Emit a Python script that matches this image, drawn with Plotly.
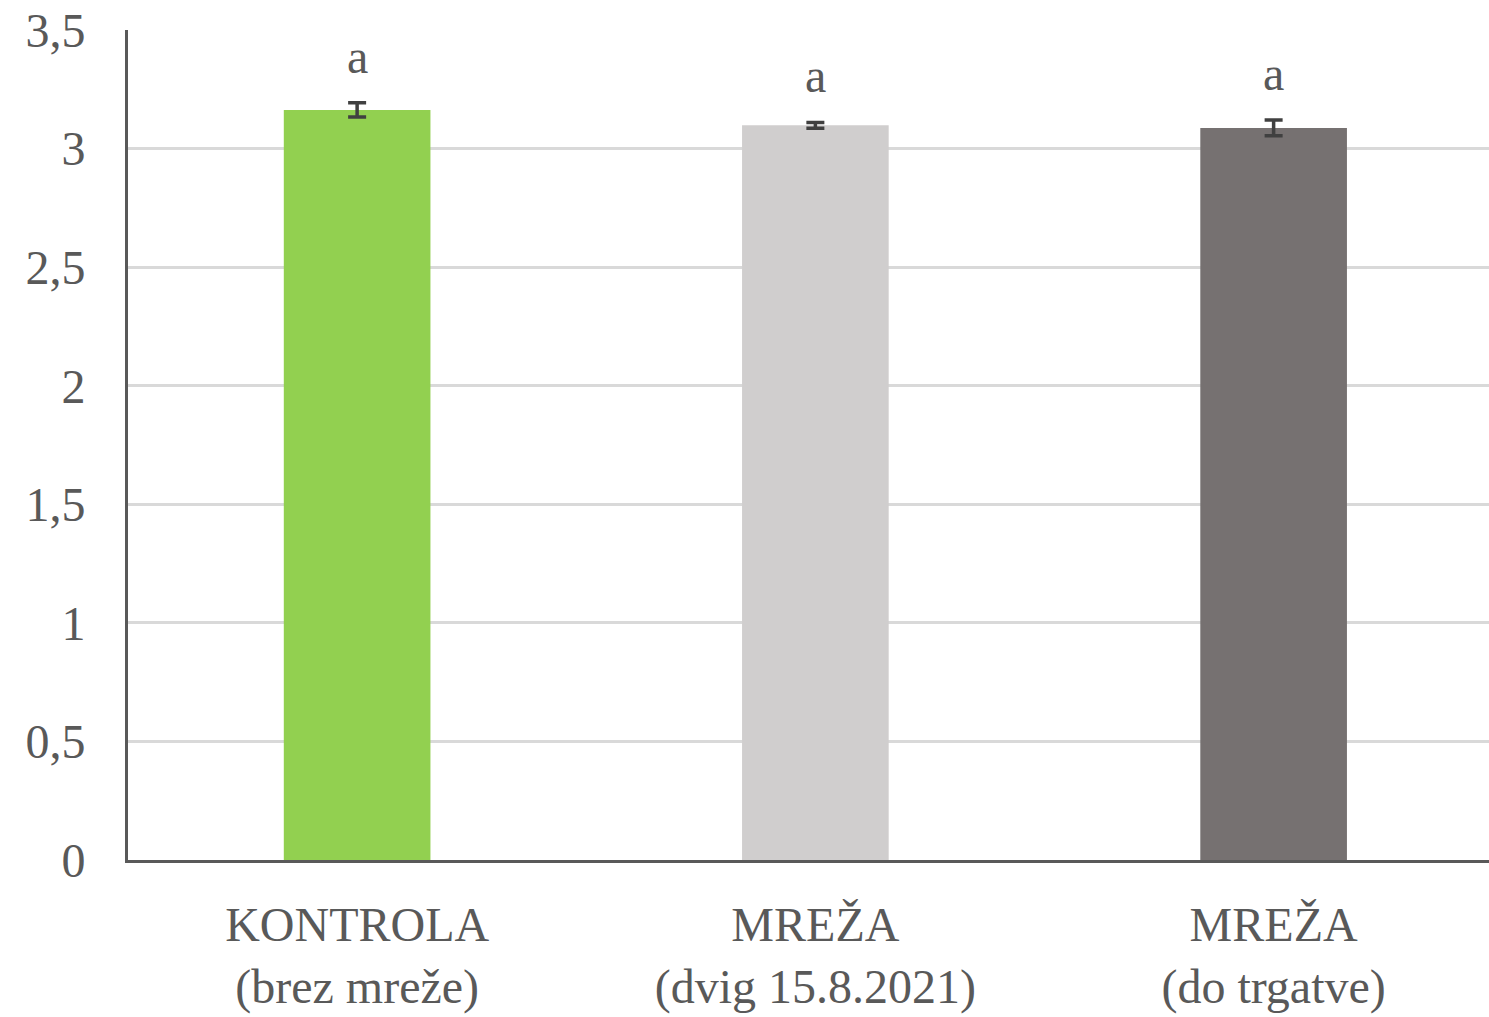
import plotly.graph_objects as go

categories = ["KONTROLA<br>(brez mreže)", "MREŽA<br>(dvig 15.8.2021)", "MREŽA<br>(do trgatve)"]
values = [3.163, 3.098, 3.087]
errors = [0.03, 0.012, 0.033]
letters = ["a", "a", "a"]
colors = ["#92D050", "#D0CECE", "#767171"]

font_family = "Liberation Serif, Times New Roman, serif"
txt_color = "#595959"

fig = go.Figure()
fig.add_trace(go.Bar(
    x=list(range(len(categories))), y=values,
    marker=dict(color=colors, line=dict(width=0)),
    width=0.32,
    error_y=dict(type="data", array=errors, visible=True, color="#404040", thickness=3.5, width=9),
    showlegend=False,
))

for i, (v, e, l) in enumerate(zip(values, errors, letters)):
    fig.add_annotation(x=i, y=v + e, text=l, showarrow=False, yanchor="bottom", yshift=18,
                       font=dict(family=font_family, size=48, color=txt_color))

fig.update_layout(
    width=1489, height=1017,
    margin=dict(l=128, r=0, t=30, b=157),
    plot_bgcolor="white", paper_bgcolor="white",
    separators=",.",
    bargap=0.68,
    font=dict(family=font_family, size=48, color=txt_color),
)
fig.update_xaxes(
    range=[-0.5, 2.47],
    tickvals=list(range(len(categories))), ticktext=categories,
    showline=True, linecolor="#595959", linewidth=3,
    showgrid=False, ticks="", ticklabelstandoff=20,
    tickfont=dict(family=font_family, size=48, color=txt_color),
)
fig.update_yaxes(
    range=[0, 3.5], dtick=0.5,
    showline=True, linecolor="#595959", linewidth=3,
    showgrid=True, gridcolor="#D9D9D9", gridwidth=3,
    zeroline=False, ticks="", ticklabelstandoff=30,
    tickfont=dict(family=font_family, size=48, color=txt_color),
)

fig.write_html("out.html")
